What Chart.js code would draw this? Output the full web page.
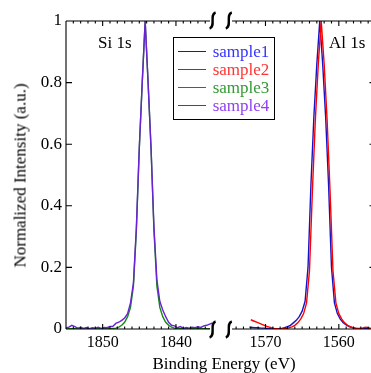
<!DOCTYPE html>
<html>
<head>
<meta charset="utf-8">
<script src="https://cdn.jsdelivr.net/npm/chart.js@4.4.1/dist/chart.umd.min.js"></script>
<style>
	html, body { margin: 0; padding: 0; background: #fff; }
	#wrap { position: relative; width: 371px; height: 373px; overflow: hidden; font-family: 'Liberation Serif', 'Times New Roman', serif; }
	#wrap canvas { position: absolute; top: 0; left: 0; }
	.txt { position: absolute; font-size: 17px; line-height: 17px; color: #000; white-space: nowrap; }
	.key { position: absolute; height: 1.5px; width: 28px; left: 178px; }
	#legend { position: absolute; left: 173px; top: 37px; width: 102px; height: 83px; border: 1px solid #000; box-sizing: border-box; background: #fff; }
</style>
</head>
<body>
<div id="wrap">
	<canvas id="leftChart" width="371" height="373"></canvas>
	<canvas id="rightChart" width="380" height="373"></canvas>
	<div class="txt" style="left:98px; top:33.5px;">Si 1s</div>
	<div class="txt" style="left:329px; top:33.5px;">Al 1s</div>
	<div class="txt" style="left:-75px; top:166.5px; width:190px; text-align:center; transform:rotate(-90deg);">Normalized Intensity (a.u.)</div>
	<div class="txt" style="left:124px; top:355px; width:200px; text-align:center;">Binding Energy (eV)</div>
	<div id="legend"></div>
</div>
<script>
// Si 1s region (samples 3 and 4)
const siEnergy = [1855.0, 1854.6, 1854.2, 1853.8, 1853.4, 1853.0, 1852.6, 1852.2, 1851.8, 1851.4,
	1851.0, 1850.6, 1850.2, 1849.8, 1849.4, 1849.0, 1848.6, 1848.2, 1847.8, 1847.4,
	1847.0, 1846.6, 1846.2, 1845.8, 1845.4, 1845.0, 1844.6, 1844.2, 1843.8, 1843.4,
	1843.0, 1842.6, 1842.2, 1841.8, 1841.4, 1841.0, 1840.6, 1840.2, 1839.8, 1839.4,
	1839.0, 1838.6, 1838.2, 1837.8, 1837.4, 1837.0, 1836.6, 1836.2, 1835.8, 1835.4, 1835.0];
const siSample3 = [0.001, 0.001, 0.001, 0.001, 0.001, 0.001, 0.001, 0.001, 0.001, 0.001,
	0.001, 0.001, 0.001, 0.001, 0.001, 0.001, 0.002, 0.003, 0.006, 0.012,
	0.022, 0.040, 0.070, 0.14, 0.32, 0.585, 0.80, 1.0, 0.80, 0.585,
	0.32, 0.14, 0.070, 0.040, 0.022, 0.012, 0.006, 0.003, 0.002, 0.001,
	0.001, 0.001, 0.001, 0.001, 0.001, 0.001, 0.001, 0.001, 0.001, 0.001, 0.001];
const siSample4 = [0.004, 0.006, 0.012, 0.008, 0.003, 0.006, 0.002, 0.005, 0.001, 0.004,
	0.003, 0.006, 0.002, 0.005, 0.004, 0.008, 0.009, 0.018, 0.022, 0.028,
	0.036, 0.050, 0.085, 0.150, 0.330, 0.590, 0.800, 1.000, 0.800, 0.590,
	0.330, 0.160, 0.090, 0.062, 0.040, 0.022, 0.012, 0.010, 0.004, 0.008,
	0.002, 0.005, 0.003, 0.006, 0.004, 0.007, 0.005, 0.010, 0.012, 0.016, 0.020];

// Al 1s region (samples 1 and 2)
const alEnergy1 = [1572.2, 1571.8, 1571.4, 1571.0, 1570.6, 1570.2, 1569.8, 1569.4, 1569.0, 1568.6,
	1568.2, 1567.8, 1567.4, 1567.0, 1566.6, 1566.2, 1565.8, 1565.4, 1565.0, 1564.6,
	1564.2, 1563.8, 1563.4, 1563.0, 1562.6, 1562.2, 1561.8, 1561.4, 1561.0, 1560.6,
	1560.2, 1559.8, 1559.4, 1559.0, 1558.6, 1558.2, 1557.8, 1557.4, 1557.0, 1556.6,
	1556.2, 1555.8, 1555.4, 1555.0];
const alSample1 = [0.006, 0.005, 0.004, 0.004, 0.003, 0.003, 0.002, 0.001, 0.001, 0.000,
	0.001, 0.002, 0.004, 0.008, 0.012, 0.020, 0.028, 0.040, 0.058, 0.090,
	0.200, 0.470, 0.690, 0.860, 1.000, 0.860, 0.690, 0.470, 0.200, 0.085,
	0.050, 0.032, 0.020, 0.013, 0.008, 0.005, 0.003, 0.002, 0.002, 0.001,
	0.002, 0.001, 0.001, 0.001];
const alEnergy2 = [1572.0, 1571.6, 1571.2, 1570.8, 1570.4, 1570.0, 1569.6, 1569.2, 1568.8, 1568.4,
	1568.0, 1567.6, 1567.2, 1566.8, 1566.4, 1566.0, 1565.6, 1565.2, 1564.8, 1564.4,
	1564.0, 1563.6, 1563.2, 1562.8, 1562.4, 1562.0, 1561.6, 1561.2, 1560.8, 1560.4,
	1560.0, 1559.6, 1559.2, 1558.8, 1558.4, 1558.0, 1557.6, 1557.2, 1556.8, 1556.4,
	1556.0, 1555.6, 1555.2];
const alSample2 = [0.030, 0.026, 0.022, 0.018, 0.014, 0.010, 0.007, 0.004, 0.002, 0.001,
	0.000, 0.001, 0.002, 0.004, 0.007, 0.012, 0.020, 0.032, 0.050, 0.085,
	0.190, 0.450, 0.680, 0.860, 1.000, 0.860, 0.680, 0.450, 0.190, 0.085,
	0.050, 0.032, 0.020, 0.012, 0.007, 0.004, 0.002, 0.001, 0.003, 0.006,
	0.004, 0.002, 0.001];

const sampleNames = ['sample1', 'sample2', 'sample3', 'sample4'];
const lineColors = ['#1414c8', '#ff0000', '#138a13', '#6a22d6'];
const textColors = ['#3333ff', '#ff3333', '#339933', '#9040f0'];
const siRange = [1835, 1855];
const alRange = [1555, 1575];
const yRange = [0, 1];

Chart.defaults.font.family = "'Liberation Serif', 'Times New Roman', serif";
Chart.defaults.color = '#000';

const toPoints = (xs, ys) => xs.map((x, i) => ({ x, y: ys[i] }));

const lineSet = (name, xs, ys, color, order) => ({
	label: name,
	data: toPoints(xs, ys),
	borderColor: color,
	borderWidth: 1.4,
	pointRadius: 0,
	fill: false,
	tension: 0,
	order,
});

// axis box, inward ticks and break marks
const frame = {
	id: 'frame',
	afterDraw(chart, args, opts) {
		const { ctx, chartArea: a } = chart;
		const xs = chart.scales.x;
		const ys = chart.scales.y;
		const side = opts.side;
		const sx = side === 'left' ? a.left : a.right;
		ctx.save();
		ctx.strokeStyle = '#000';
		ctx.lineWidth = 1.1;
		ctx.beginPath();
		ctx.moveTo(a.left, a.top);
		ctx.lineTo(a.right, a.top);
		ctx.moveTo(a.left, a.bottom);
		ctx.lineTo(a.right, a.bottom);
		ctx.moveTo(sx, a.top);
		ctx.lineTo(sx, a.bottom);
		xs.ticks.forEach((t) => {
			const px = xs.getPixelForValue(t.value);
			const len = Math.round(t.value) % 10 === 0 ? 5 : 2.5;
			ctx.moveTo(px, a.top);
			ctx.lineTo(px, a.top + len);
			ctx.moveTo(px, a.bottom);
			ctx.lineTo(px, a.bottom - len);
		});
		ys.ticks.forEach((t) => {
			const py = ys.getPixelForValue(t.value);
			ctx.moveTo(sx, py);
			ctx.lineTo(sx + (side === 'left' ? 6 : -6), py);
		});
		ctx.stroke();

		const bx = side === 'left' ? a.right : a.left;
		ctx.lineWidth = 2.4;
		[a.top - 0.5, a.bottom + 0.5].forEach((cy) => {
			ctx.clearRect(bx - 3, cy - 2, 6, 4);
			ctx.beginPath();
			ctx.moveTo(bx + 3, cy - 8);
			ctx.bezierCurveTo(bx - 3.5, cy - 6, bx + 3.5, cy + 6, bx - 3, cy + 8);
			ctx.stroke();
		});
		ctx.restore();
	},
};

const xAxis = (range) => ({
	type: 'linear',
	position: 'bottom',
	min: range[0],
	max: range[1],
	reverse: true,
	afterFit: (s) => { s.height = 44; },
	grid: { display: false, drawTicks: false },
	border: { display: false },
	ticks: {
		stepSize: 1,
		autoSkip: false,
		maxRotation: 0,
		padding: 4,
		font: { size: 16 },
		callback: (v) => (Math.round(v) % 10 === 0 ? String(Math.round(v)) : ''),
	},
});

const leftChart = new Chart(document.getElementById('leftChart'), {
	type: 'line',
	data: {
		datasets: [
			lineSet(sampleNames[2], siEnergy, siSample3, lineColors[2], 1),
			lineSet(sampleNames[3], siEnergy, siSample4, lineColors[3], 0),
		],
	},
	options: {
		responsive: false,
		animation: false,
		devicePixelRatio: 1,
		layout: { padding: { left: 0, top: 21, right: 158.4, bottom: 0 } },
		plugins: { legend: { display: false }, tooltip: { enabled: false }, frame: { side: 'left' } },
		scales: {
			x: xAxis(siRange),
			y: {
				min: yRange[0],
				max: yRange[1],
				afterFit: (s) => { s.width = 66; },
				grid: { display: false, drawTicks: false },
				border: { display: false },
				ticks: {
					stepSize: 0.2,
					padding: 4,
					font: { size: 17 },
					callback: (v) => String(+v.toFixed(1)),
				},
			},
		},
	},
	plugins: [frame],
});

const rightChart = new Chart(document.getElementById('rightChart'), {
	type: 'line',
	data: {
		datasets: [
			lineSet(sampleNames[0], alEnergy1, alSample1, lineColors[0], 1),
			lineSet(sampleNames[1], alEnergy2, alSample2, lineColors[1], 0),
		],
	},
	options: {
		responsive: false,
		animation: false,
		devicePixelRatio: 1,
		layout: { padding: { left: 228.8, top: 21, right: 4.5, bottom: 0 } },
		plugins: { legend: { display: false }, tooltip: { enabled: false }, frame: { side: 'right' } },
		scales: {
			x: xAxis(alRange),
			y: {
				position: 'right',
				min: yRange[0],
				max: yRange[1],
				afterFit: (s) => { s.width = 0; },
				grid: { display: false, drawTicks: false },
				border: { display: false },
				ticks: { display: false, stepSize: 0.2 },
			},
		},
	},
	plugins: [frame],
});

// legend box, built from the sample names and colours
const wrap = document.getElementById('wrap');
sampleNames.forEach((name, i) => {
	const lineY = 51.7 + i * 17.9;
	const key = document.createElement('div');
	key.className = 'key';
	key.style.top = (lineY - 0.75) + 'px';
	key.style.background = lineColors[i];
	wrap.appendChild(key);
	const label = document.createElement('div');
	label.className = 'txt';
	label.style.left = '212.7px';
	label.style.top = (lineY - 8.6) + 'px';
	label.style.color = textColors[i];
	label.textContent = name;
	wrap.appendChild(label);
});
</script>
</body>
</html>
